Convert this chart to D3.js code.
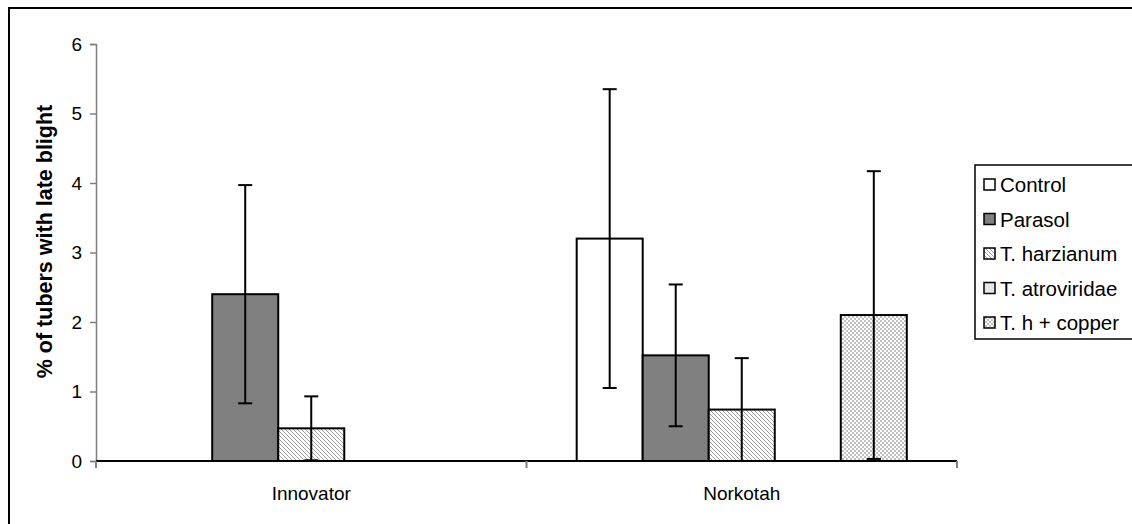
<!DOCTYPE html>
<html>
<head>
<meta charset="utf-8">
<script src="https://cdn.jsdelivr.net/npm/d3@7"></script>
<style>
  body { margin: 0; background: #fff; }
  svg { display: block; font-family: 'Liberation Sans', Arial, sans-serif; }
</style>
</head>
<body>
<svg id="chart_svg" width="1132" height="524"></svg>
<script>
  const categories = ['Innovator', 'Norkotah'];
  const series_names = ['Control', 'Parasol', 'T. harzianum', 'T. atroviridae', 'T. h + copper'];

  // mean values per series, one entry per category (null = no data)
  const control_values = [0, 3.2];
  const parasol_values = [2.4, 1.52];
  const harzianum_values = [0.47, 0.74];
  const atroviridae_values = [null, null];
  const copper_values = [0, 2.1];

  // error bar half-widths
  const control_errors = [0, 2.15];
  const parasol_errors = [1.57, 1.02];
  const harzianum_errors = [0.46, 0.74];
  const atroviridae_errors = [null, null];
  const copper_errors = [0, 2.07];

  const y_ticks = [0, 1, 2, 3, 4, 5, 6];

  const all_values = [control_values, parasol_values, harzianum_values, atroviridae_values, copper_values];
  const all_errors = [control_errors, parasol_errors, harzianum_errors, atroviridae_errors, copper_errors];

  let bar_data = [];
  categories.forEach((c, ci) => {
    series_names.forEach((s, si) => {
      bar_data.push({ category: c, series: s, value: all_values[si][ci], error: all_errors[si][ci] });
    });
  });

  /**
   * Plot area bounds.
   */
  const plot = { left: 96, right: 957, top: 44, bottom: 461 };

  let svg = d3.select('#chart_svg');

  /**
   * Fill patterns for the hatched series.
   */
  let defs = svg.append('defs');

  let hatch = defs.append('pattern')
    .attr('id', 'hatch')
    .attr('patternUnits', 'userSpaceOnUse')
    .attr('width', 4)
    .attr('height', 4);
  hatch.append('rect').attr('width', 4).attr('height', 4).attr('fill', '#fff');
  hatch.append('path')
    .attr('d', 'M-1,-1 L5,5 M-1,3 L1,5 M3,-1 L5,1')
    .attr('stroke', '#a0a0a0')
    .attr('stroke-width', 1);

  let dots = defs.append('pattern')
    .attr('id', 'dots')
    .attr('patternUnits', 'userSpaceOnUse')
    .attr('width', 4)
    .attr('height', 4);
  dots.append('rect').attr('width', 4).attr('height', 4).attr('fill', '#fff');
  dots.append('rect').attr('width', 2).attr('height', 2).attr('fill', '#c0c0c0');
  dots.append('rect').attr('x', 2).attr('y', 2).attr('width', 2).attr('height', 2).attr('fill', '#c0c0c0');

  const fills = {
    'Control': '#ffffff',
    'Parasol': '#808080',
    'T. harzianum': 'url(#hatch)',
    'T. atroviridae': '#e6e6e6',
    'T. h + copper': 'url(#dots)',
  };

  /**
   * Outer chart border.
   */
  svg.append('rect')
    .attr('x', 9)
    .attr('y', 8)
    .attr('width', 1140)
    .attr('height', 540)
    .attr('fill', 'none')
    .attr('stroke', '#000')
    .attr('stroke-width', 2);

  /**
   * Scales
   */
  const x_outer = d3.scaleBand()
    .domain(categories)
    .range([plot.left, plot.right]);

  const x_inner = d3.scaleBand()
    .domain(series_names)
    .range([0, x_outer.bandwidth()])
    .paddingOuter(0.76);

  const y_scale = d3.scaleLinear()
    .domain([0, 6])
    .range([plot.bottom, plot.top]);

  /**
   * Y axis
   */
  let y_axis = d3.axisLeft(y_scale)
    .tickValues(y_ticks)
    .tickFormat(d3.format('d'))
    .tickSize(6)
    .tickPadding(8);
  let g_y = svg.append('g')
    .attr('transform', `translate(${plot.left},0)`)
    .call(y_axis);
  g_y.select('.domain').attr('stroke', '#808080').attr('stroke-width', 1.5);
  g_y.selectAll('.tick line').attr('stroke', '#808080').attr('stroke-width', 1.5);
  g_y.selectAll('.tick text')
    .attr('font-family', 'Liberation Sans, Arial, sans-serif')
    .attr('font-size', 19)
    .attr('fill', '#000');

  /**
   * X axis
   */
  let x_axis_line = svg.append('g');
  x_axis_line.append('line')
    .attr('x1', plot.left)
    .attr('x2', plot.right)
    .attr('y1', y_scale(0))
    .attr('y2', y_scale(0))
    .attr('stroke', '#000')
    .attr('stroke-width', 2);

  let sep_ticks = [plot.left].concat(categories.map((c) => x_outer(c) + x_outer.bandwidth()));
  x_axis_line.selectAll('.x_tick')
    .data(sep_ticks)
    .enter()
    .append('line')
    .attr('class', 'x_tick')
    .attr('x1', (d) => d)
    .attr('x2', (d) => d)
    .attr('y1', y_scale(0))
    .attr('y2', y_scale(0) + 7)
    .attr('stroke', '#808080')
    .attr('stroke-width', 2);

  x_axis_line.selectAll('.x_label')
    .data(categories)
    .enter()
    .append('text')
    .attr('class', 'x_label')
    .attr('x', (d) => x_outer(d) + x_outer.bandwidth() / 2)
    .attr('y', 500)
    .attr('text-anchor', 'middle')
    .attr('font-size', 19)
    .text((d) => d);

  /**
   * Bars (drawn over the axis line so zero bars show as a short dash)
   */
  let bars = svg.append('g')
    .selectAll('.bar')
    .data(bar_data.filter((d) => d.value !== null));

  bars.enter()
    .append('rect')
    .attr('class', 'bar')
    .attr('x', (d) => x_outer(d.category) + x_inner(d.series))
    .attr('width', x_inner.bandwidth())
    .attr('y', (d) => y_scale(d.value))
    .attr('height', (d) => y_scale(0) - y_scale(d.value))
    .attr('fill', (d) => fills[d.series])
    .attr('stroke', '#000')
    .attr('stroke-width', 2);

  /**
   * Error bars
   */
  let err_data = bar_data.filter((d) => d.value !== null && d.error > 0);
  let g_err = svg.append('g');
  err_data.forEach((d) => {
    let cx = x_outer(d.category) + x_inner(d.series) + x_inner.bandwidth() / 2;
    let lo = Math.max(0, d.value - d.error);
    let hi = d.value + d.error;
    g_err.append('line')
      .attr('x1', cx).attr('x2', cx)
      .attr('y1', y_scale(lo)).attr('y2', y_scale(hi))
      .attr('stroke', '#000').attr('stroke-width', 2);
    [lo, hi].forEach((v) => {
      g_err.append('line')
        .attr('x1', cx - 7).attr('x2', cx + 7)
        .attr('y1', y_scale(v)).attr('y2', y_scale(v))
        .attr('stroke', '#000').attr('stroke-width', 2);
    });
  });

  /**
   * Y axis title
   */
  svg.append('text')
    .attr('transform', `translate(52,${(plot.top + plot.bottom) / 2 - 11}) rotate(-90)`)
    .attr('text-anchor', 'middle')
    .attr('font-size', 21.5)
    .attr('font-weight', 'bold')
    .text('% of tubers with late blight');

  /**
   * Legend
   */
  let legend = svg.append('g').attr('transform', 'translate(975,165)');
  legend.append('rect')
    .attr('width', 200)
    .attr('height', 174)
    .attr('fill', '#fff')
    .attr('stroke', '#000')
    .attr('stroke-width', 1.5);

  let legend_items = legend.selectAll('.legend_item')
    .data(series_names)
    .enter()
    .append('g')
    .attr('class', 'legend_item')
    .attr('transform', (d, i) => `translate(0,${20 + i * 34.5})`);

  legend_items.append('rect')
    .attr('x', 9)
    .attr('y', -6)
    .attr('width', 11)
    .attr('height', 11)
    .attr('fill', (d) => fills[d])
    .attr('stroke', '#000')
    .attr('stroke-width', 1.5);

  legend_items.append('text')
    .attr('x', 25)
    .attr('y', 7)
    .attr('font-size', 20.5)
    .text((d) => d);
</script>
</body>
</html>
